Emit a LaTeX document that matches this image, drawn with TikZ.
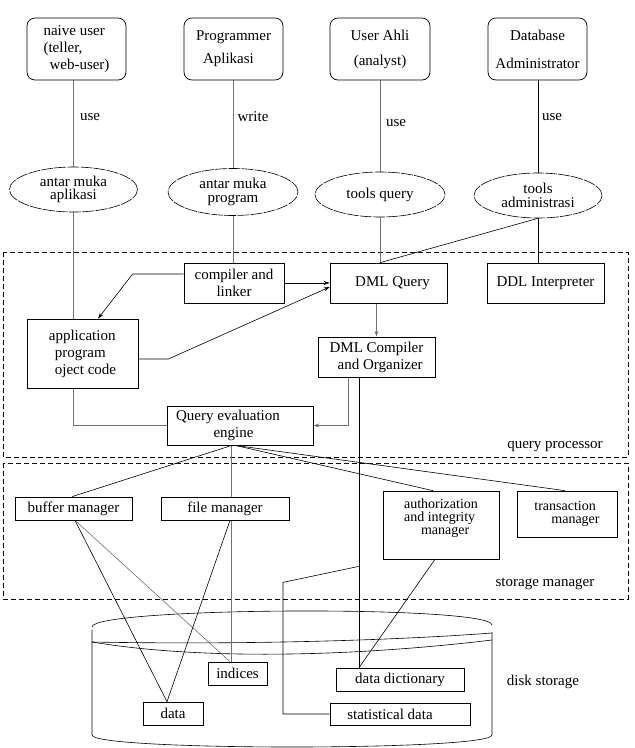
\documentclass[tikz,border=0pt]{standalone}
\usepackage{fontspec}
\setmainfont{Liberation Serif}
\usetikzlibrary{arrows.meta,shapes.geometric,calc}
\pgfdeclarelayer{bg}
\pgfsetlayers{bg,main}
\newcommand\fsz[1]{\fontsize{15}{#1}\selectfont}
\newcommand\fsm[1]{\fontsize{14}{#1}\selectfont}
\tikzset{
  box/.style={draw, fill=white, line width=0.7pt, inner sep=0pt, align=center, font=\fsz{17}},
  ubox/.style={box, rounded corners=8pt},
  oval/.style={ellipse, draw, fill=white, line width=0.6pt, dash pattern=on 12pt off 1.2pt, inner sep=0pt, align=center, font=\fsz{13.5}},
  lbl/.style={inner sep=1pt, font=\fsz{17}},
  region/.style={draw, dash pattern=on 5pt off 3pt, line width=0.8pt},
  ln/.style={line width=0.6pt},
  gl/.style={line width=0.6pt, draw=black!55},
  thk/.style={line width=0.95pt},
  arr/.style={-{Stealth[length=6pt,width=4pt]}}
}
\begin{document}
\begin{tikzpicture}[x=1pt,y=-1pt]
\useasboundingbox (0,0) rectangle (635,748);

% top users
\node[ubox, minimum width=99, minimum height=62, align=left, font=\fsz{17}] (nu) at (76.5,49) {naive user\\(teller,\\\hspace*{6pt}web-user)};
\node[ubox, minimum width=99, minimum height=62, align=left, font=\fsz{23}] (pa) at (233.5,49) {Programmer\\\hspace*{7pt}Aplikasi};
\node[ubox, minimum width=100, minimum height=62, font=\fsz{25}] (ua) at (380,49) {User Ahli\\(analyst)};
\node[ubox, minimum width=99, minimum height=62, font=\fsz{28}] (dba) at (537.5,49) {Database\\Administrator};

\node[lbl] (u1) at (90,117) {use};
\node[lbl] (u2) at (253,117) {write};
\node[lbl] (u3) at (396,123) {use};
\node[lbl] (u4) at (552,117) {use};

% interfaces
\node[oval, minimum width=128, minimum height=45] (e1) at (73.5,189.5) {antar muka\\aplikasi};
\node[oval, minimum width=130, minimum height=47] (e2) at (233,192) {antar muka\\program};
\node[oval, minimum width=130, minimum height=45] (e3) at (380,194.5) {tools query};
\node[oval, minimum width=128, minimum height=45] (e4) at (538,195.5) {tools\\administrasi};

% query processor
\node[box, minimum width=100, minimum height=40] (cl) at (234,283) {compiler and\\linker};
\node[box, minimum width=117, minimum height=40] (dq) at (388.5,283) {\hspace*{8pt}DML Query};
\node[box, minimum width=117, minimum height=40] (ddl) at (545.5,283) {DDL Interpreter};
\node[box, minimum width=111, minimum height=69, align=left] (app) at (82.5,353.5) {application\\\hspace*{6pt}program\\\hspace*{6pt}oject code};
\node[box, minimum width=117, minimum height=40, align=left] (dc) at (376.5,357) {DML Compiler\\\hspace*{8pt}and Organizer};
\node[box, minimum width=146, minimum height=39] (qe) at (240,425.5) {Query evaluation\hspace*{24pt}\\engine\hspace*{13pt}};
\node[lbl] (qpl) at (555,447) {query processor};

% storage manager
\node[box, minimum width=117, minimum height=23] (bm) at (73.5,508.5) {buffer manager};
\node[box, minimum width=128, minimum height=23] (fm) at (225,508.5) {file manager};
\node[box, minimum width=116, minimum height=68, align=left, font=\fsm{13}] (aim) at (441,525) {authorization\\and integrity\\\hspace*{17pt}manager\\[4pt]};
\node[box, minimum width=100, minimum height=46, align=left, font=\fsm{13.5}] (tm) at (567,514) {transaction\\\hspace*{17pt}manager};
\node[lbl] (sml) at (545,584) {storage manager};

% disk storage
\node[box, minimum width=59, minimum height=23] (ind) at (237.5,673.5) {indices};
\node[box, minimum width=60, minimum height=23] (dat) at (173,713.5) {data};
\node[box, minimum width=128, minimum height=23] (dd) at (400,679.5) {data dictionary};
\node[box, minimum width=140, minimum height=22] (sd) at (400,714) {statistical data\hspace*{20pt}};
\node[lbl] (dsl) at (543,682) {disk storage};

\begin{pgfonlayer}{bg}
% regions
\draw[region] (3,252) rectangle (628,457);
\draw[region] (3,463) rectangle (628,599);
% cylinder
\draw[ln] (92,627) .. controls (92,607) and (492,605) .. (492,625);
\draw[ln] (92,630) -- (92,735) .. controls (92,751) and (492,751) .. (492,735) -- (492,632);
\draw[ln] (92,642) .. controls (250,645) and (400,640) .. (492,633);
\draw[ln] (92,642) .. controls (200,660) and (350,657) .. (492,640);

% user lines
\draw[gl] (e1.north |- nu.south) -- (e1.north);
\draw[gl] (e1.south) -- (e1.south |- app.north);
\draw[gl] (e2.north |- pa.south) -- (e2.north);
\draw[gl] (e2.south) -- (e2.south |- cl.north);
\draw[gl] (e3.north |- ua.south) -- (e3.north);
\draw[gl] (e3.south) -- (e3.south |- dq.north);
\draw[ln] (e4.north |- dba.south) -- (e4.north);
\draw[ln] (e4.south) -- (e4.south |- ddl.north);
\draw[ln] (e4.south) -- (e3.south |- dq.north);

% query processor connectors
\draw[ln,arr] (cl.east) -- (dq.west);
\draw[ln,arr] ($(cl.west)+(0,-9)$) -- ++(-51,0) -- ($(app.north)+(15.5,0)$);
\draw[ln,arr] ($(app.east)+(0,5.5)$) -- ++(30,0) -- ($(dq.west)+(0,4)$);
\draw[gl,arr] (dc.north |- dq.south) -- (dc.north);
\draw[gl,arr] ($(dc.south)+(-28.5,0)$) |- (qe.east);
\draw[gl] ($(app.south)+(-9,0)$) |- (qe.west);
\draw[thk] ($(dc.south)+(-17.5,0)$) -- ($(dd.north)+(-41,0)$);
\coordinate (br) at ($(dc.south)+(-17.5,189)$);
\draw[ln] (br) -- ++(-76,16) |- (sd.west);
\draw[ln] ($(aim.south)+(-6,0)$) -- ($(dd.north)+(-41,0)$);

% query evaluation to storage
\draw[ln] ($(qe.south)+(-8,0)$) -- ($(bm.north)+(-1.5,0)$);
\coordinate (qv) at ($(qe.south)+(-9,0)$);
\draw[gl] (qv) -- (qv |- ind.north);
\draw[ln] ($(qe.south)+(-5,0)$) -- ($(aim.north)+(-8,0)$);
\draw[ln] ($(qe.south)+(-5,0)$) -- ($(tm.north)+(-2,0)$);
\draw[ln] ($(bm.south)+(1.5,0)$) -- ($(dat.north)+(-6,0)$);
\draw[gl] ($(bm.south)+(1.5,0)$) -- ($(ind.north)+(-7.5,0)$);
\draw[ln] ($(fm.south)+(5,0)$) -- ($(dat.north)+(-6,0)$);
\end{pgfonlayer}
\end{tikzpicture}
\end{document}
